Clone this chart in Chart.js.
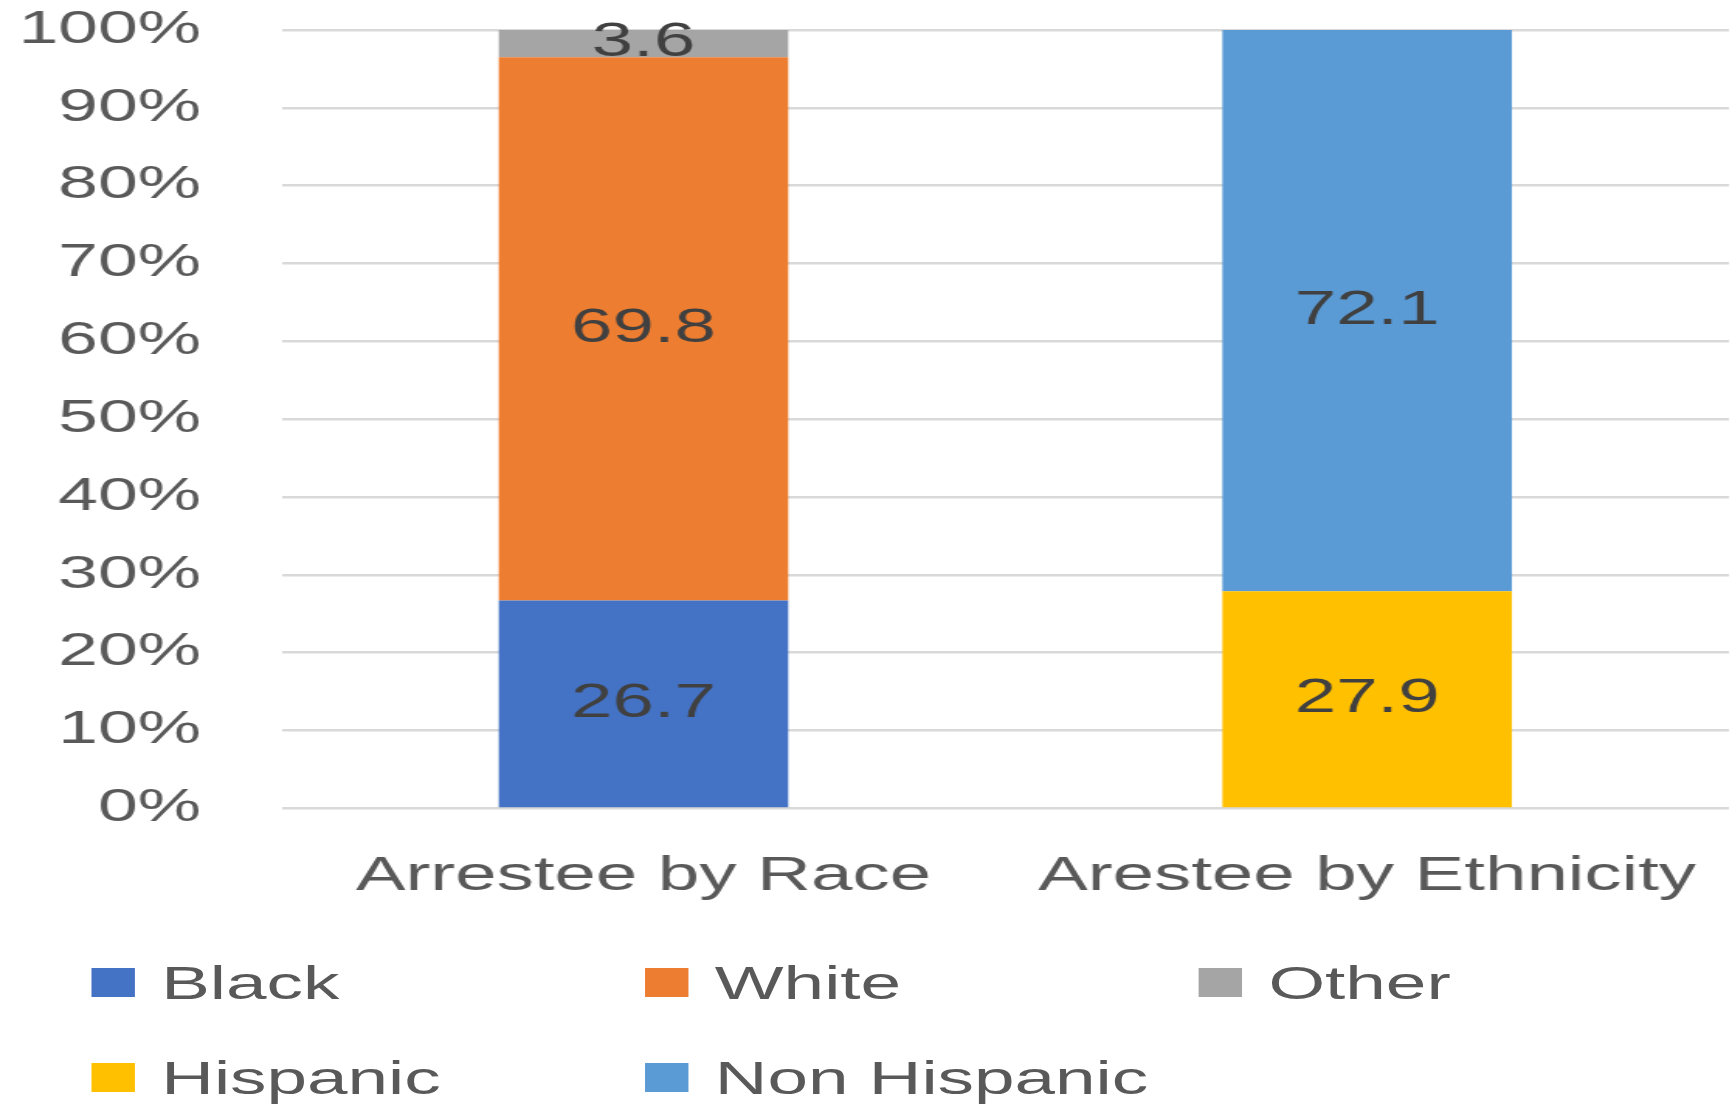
<!DOCTYPE html>
<html>
<head>
<meta charset="utf-8">
<script src="https://cdn.jsdelivr.net/npm/chart.js@4"></script>
<style>
  html, body { margin: 0; padding: 0; background: #fff; overflow: hidden; }
  /* the reference is stretched sideways, so the whole chart is drawn narrow and widened */
  #wrap { position: relative; width: 1117px; height: 1105px; transform: scaleX(1.5506); transform-origin: 0 0; }
  #box { position: absolute; left: 0; top: 0; width: 1117px; height: 920px; }
  #legend { position: absolute; left: 59px; top: 935px; display: grid; grid-template-columns: 357px 357px 357px; grid-auto-rows: 95px;
            font-family: "Liberation Sans", Arial, sans-serif; font-size: 47px; color: #595959; }
  .item { display: flex; align-items: center; height: 95px; }
  .swatch { width: 28px; height: 29px; margin-right: 17px; }
</style>
</head>
<body>
<div id="wrap">
  <div id="box"><canvas id="chart"></canvas></div>
  <div id="legend"></div>
</div>
<script>
const categories = ["Arrestee by Race", "Arestee by Ethnicity"];
const black = [26.7, null];
const white = [69.8, null];
const other = [3.6, null];
const hispanic = [null, 27.9];
const nonHispanic = [null, 72.1];
const yTicks = [0, 10, 20, 30, 40, 50, 60, 70, 80, 90, 100];

const font = "'Liberation Sans', Arial, sans-serif";

// value labels in the middle of each segment
const valueLabels = {
    id: "valueLabels",
    afterDatasetsDraw(chart) {
        const ctx = chart.ctx;
        ctx.save();
        ctx.font = "48px " + font;
        ctx.fillStyle = "#404040";
        ctx.textAlign = "center";
        ctx.textBaseline = "middle";
        chart.data.datasets.forEach((ds, i) => {
            chart.getDatasetMeta(i).data.forEach((bar, j) => {
                const v = ds.data[j];
                if (v == null) return;
                const p = bar.getProps(["x", "y", "base"], true);
                ctx.fillText(v.toFixed(1), p.x, (p.y + p.base) / 2);
            });
        });
        ctx.restore();
    },
};

const chart = new Chart(document.getElementById("chart"), {
    type: "bar",
    data: {
        labels: categories,
        datasets: [
            { label: "Black", data: black, backgroundColor: "#4472C4" },
            { label: "White", data: white, backgroundColor: "#ED7D31" },
            { label: "Other", data: other, backgroundColor: "#A5A5A5" },
            { label: "Hispanic", data: hispanic, backgroundColor: "#FFC000" },
            { label: "Non Hispanic", data: nonHispanic, backgroundColor: "#5B9BD5" },
        ],
    },
    options: {
        responsive: true,
        maintainAspectRatio: false,
        animation: false,
        barPercentage: 0.4,
        categoryPercentage: 1,
        layout: { padding: { left: 12, right: 2, top: 2, bottom: 14 } },
        plugins: {
            legend: { display: false },
            tooltip: { enabled: false },
        },
        scales: {
            x: {
                stacked: true,
                grid: { display: false },
                border: { display: false },
                ticks: { color: "#595959", font: { family: font, size: 48 }, padding: 32, maxRotation: 0 },
                // chart.js counts the tick padding twice when sizing; keep it once
                afterFit: (axis) => {
                    axis.paddingLeft = 0;
                    axis.paddingRight = 0;
                    axis.height -= axis.options.ticks.padding;
                },
            },
            y: {
                stacked: true,
                min: 0,
                max: 100,
                afterBuildTicks: (axis) => { axis.ticks = yTicks.map((v) => ({ value: v })); },
                afterFit: (axis) => {
                    axis.paddingTop = 30;
                    axis.paddingBottom = 0;
                    axis.width -= axis.options.ticks.padding;
                },
                grid: { color: "#d9d9d9", lineWidth: 2.5, drawTicks: false },
                border: { display: false },
                ticks: {
                    color: "#595959",
                    font: { family: font, size: 46 },
                    padding: 52,
                    callback: (v) => v + "%",
                },
            },
        },
    },
    plugins: [valueLabels],
});

// legend in three equal columns, like the original
const legendEl = document.getElementById("legend");
Chart.defaults.plugins.legend.labels.generateLabels(chart).forEach((item) => {
    const div = document.createElement("div");
    div.className = "item";
    const sw = document.createElement("span");
    sw.className = "swatch";
    sw.style.background = item.fillStyle;
    const tx = document.createElement("span");
    tx.textContent = item.text;
    div.appendChild(sw);
    div.appendChild(tx);
    legendEl.appendChild(div);
});
</script>
</body>
</html>
